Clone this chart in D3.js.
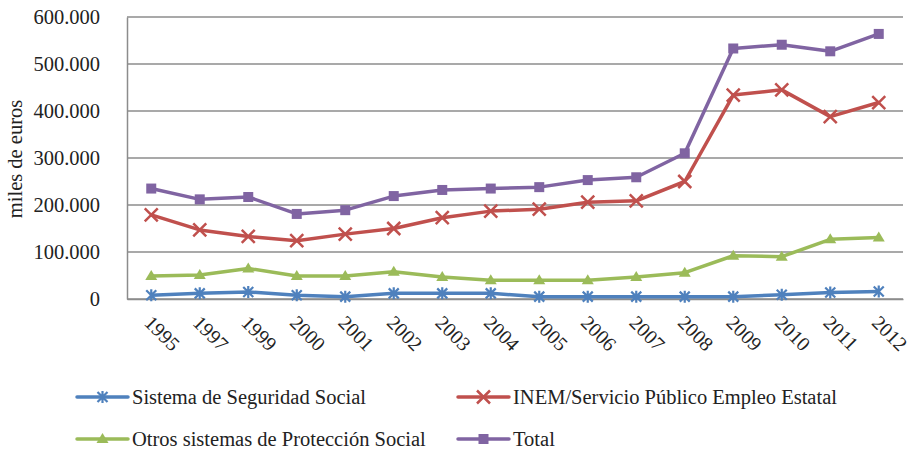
<!DOCTYPE html>
<html lang="es">
<head>
  <meta charset="UTF-8">
  <title>Gasto en prestaciones</title>
  <script src="https://d3js.org/d3.v7.min.js"></script>
  <style>
    body {
      background: #fff;
      margin: 0;
    }
    svg, svg text {
      font-family: 'Liberation Serif', 'Times New Roman', 'DejaVu Serif', serif !important;
    }
  </style>
</head>
<body>
  <script>
    var years = ["1995", "1997", "1999", "2000", "2001", "2002", "2003", "2004",
                 "2005", "2006", "2007", "2008", "2009", "2010", "2011", "2012"];

    var seguridadSocial = [8000, 12000, 15000, 8000, 5000, 12000, 12000, 12000,
                           5000, 5000, 5000, 5000, 5000, 9000, 14000, 16000];
    var inem = [179000, 147000, 133000, 124000, 138000, 150000, 173000, 187000,
                191000, 206000, 209000, 250000, 434000, 445000, 388000, 418000];
    var otros = [49000, 51000, 65000, 49000, 49000, 58000, 47000, 40000,
                 40000, 40000, 47000, 56000, 92000, 90000, 127000, 131000];
    var total = [235000, 212000, 217000, 181000, 189000, 219000, 232000, 235000,
                 238000, 253000, 259000, 310000, 533000, 541000, 527000, 564000];

    var yTicks = [0, 100000, 200000, 300000, 400000, 500000, 600000];

    var series = [
      { name: "Sistema de Seguridad Social", values: seguridadSocial, color: "#4f81bd", marker: "star" },
      { name: "INEM/Servicio Público Empleo Estatal", values: inem, color: "#c0504d", marker: "x" },
      { name: "Otros sistemas de Protección Social", values: otros, color: "#9bbb59", marker: "triangle" },
      { name: "Total", values: total, color: "#8064a2", marker: "square" }
    ];

    var width = 914, height = 450;
    var margin = { top: 17, right: 11, bottom: 151, left: 127 };

    var svg = d3.select("body").append("svg")
      .attr("width", width)
      .attr("height", height);

    var x = d3.scaleBand()
      .domain(years)
      .range([margin.left, width - margin.right]);

    var y = d3.scaleLinear()
      .domain([0, 600000])
      .range([height - margin.bottom, margin.top]);

    var fmt = function(d) {
      return d === 0 ? "0" : d3.format(",")(d).replace(/,/g, ".");
    };

    // gridlines
    svg.append("g")
      .selectAll("line")
      .data(yTicks)
      .enter()
      .append("line")
      .attr("x1", margin.left)
      .attr("x2", width - margin.right)
      .attr("y1", function(d) { return y(d); })
      .attr("y2", function(d) { return y(d); })
      .attr("stroke", "#8c8c8c")
      .attr("stroke-width", 1.5);

    // y axis
    var yAxis = svg.append("g")
      .attr("transform", "translate(" + margin.left + ",0)")
      .call(d3.axisLeft(y).tickValues(yTicks).tickFormat(fmt).tickSize(0).tickPadding(27));
    yAxis.attr("font-family", null);
    yAxis.select(".domain").attr("stroke", "#8c8c8c").attr("stroke-width", 1.5);
    yAxis.selectAll("text").style("font-size", "20.5px").attr("fill", "#222");

    // x axis
    var xAxis = svg.append("g")
      .attr("transform", "translate(0," + y(0) + ")")
      .call(d3.axisBottom(x).tickSize(0));
    xAxis.attr("font-family", null);
    xAxis.select(".domain").attr("stroke", "#8c8c8c").attr("stroke-width", 1.5);
    xAxis.selectAll("text")
      .style("font-size", "20px")
      .attr("fill", "#222")
      .attr("text-anchor", "start")
      .attr("dy", null)
      .attr("y", 0)
      .attr("transform", "translate(-8,25) rotate(45)");

    svg.append("text")
      .attr("transform", "translate(22," + (y(300000) + 1) + ") rotate(-90)")
      .attr("text-anchor", "middle")
      .attr("fill", "#222")
      .style("font-size", "20.5px")
      .text("miles de euros");

    var line = d3.line()
      .x(function(d, i) { return x(years[i]) + x.bandwidth() / 2; })
      .y(function(d) { return y(d); });

    function drawMarker(g, type, color) {
      if (type === "square") {
        g.append("rect").attr("x", -5).attr("y", -5).attr("width", 10).attr("height", 10)
          .attr("fill", color);
      } else if (type === "triangle") {
        g.append("path").attr("d", "M0,-6L6,4L-6,4Z").attr("fill", color);
      } else if (type === "x") {
        g.append("path").attr("d", "M-6.5,-6.5L6.5,6.5M-6.5,6.5L6.5,-6.5")
          .attr("stroke", color).attr("stroke-width", 2.5);
      } else {
        g.append("path").attr("d", "M-5,-5L5,5M-5,5L5,-5M0,-6L0,6")
          .attr("stroke", color).attr("stroke-width", 2.2);
      }
    }

    series.forEach(function(s) {
      svg.append("path")
        .datum(s.values)
        .attr("fill", "none")
        .attr("stroke", s.color)
        .attr("stroke-width", 3.5)
        .attr("stroke-linejoin", "round")
        .attr("d", line);

      svg.append("g")
        .selectAll("g")
        .data(s.values)
        .enter()
        .append("g")
        .attr("transform", function(d, i) {
          return "translate(" + (x(years[i]) + x.bandwidth() / 2) + "," + y(d) + ")";
        })
        .each(function() { drawMarker(d3.select(this), s.marker, s.color); });
    });

    // legend
    var legendPos = [[77, 397], [458, 397], [77, 439], [458, 439]];
    series.forEach(function(s, i) {
      var g = svg.append("g")
        .attr("transform", "translate(" + legendPos[i][0] + "," + legendPos[i][1] + ")");
      g.append("line")
        .attr("x1", 0).attr("x2", 51)
        .attr("stroke", s.color)
        .attr("stroke-width", 3.5)
        .attr("stroke-linecap", "round");
      drawMarker(g.append("g").attr("transform", "translate(25.5,0)"), s.marker, s.color);
      g.append("text")
        .attr("x", 55)
        .attr("dy", "0.35em")
        .attr("fill", "#222")
        .style("font-size", "20.5px")
        .text(s.name);
    });
  </script>
</body>
</html>
